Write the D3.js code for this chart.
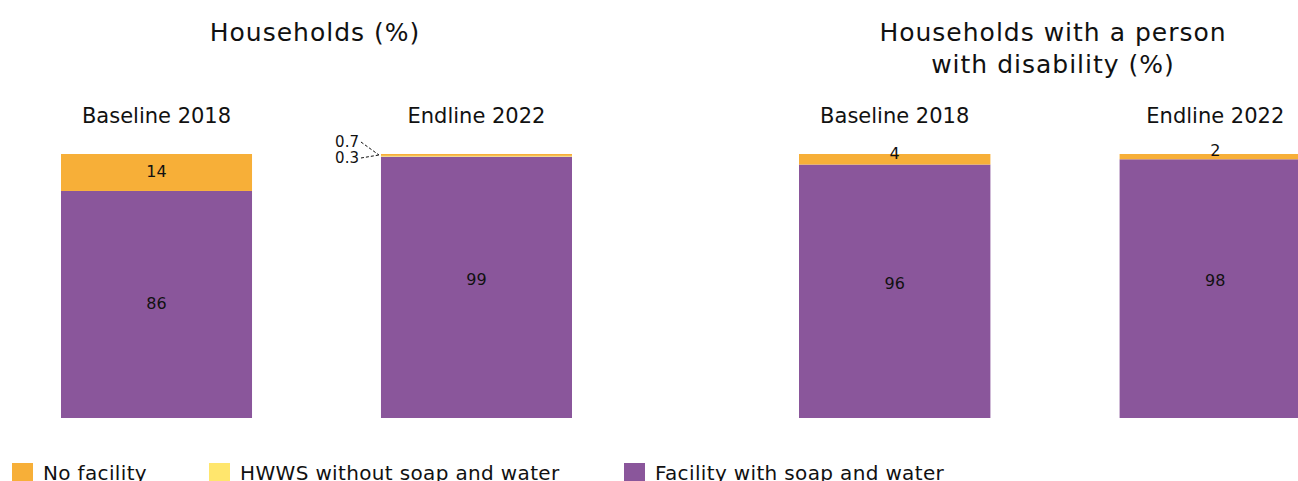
<!DOCTYPE html>
<html>
<head>
<meta charset="utf-8">
<script src="https://cdn.jsdelivr.net/npm/d3@7"></script>
<style>
  body { margin: 0; background: #fff; }
  text { font-family: "DejaVu Sans", Verdana, sans-serif; fill: #111; }
</style>
</head>
<body>
<div id="chart"></div>
<script>
// data
let periods = ["Baseline 2018", "Endline 2022"];
let series = ["No facility", "HWWS without soap and water", "Facility with soap and water"];
let colors = ["#f7af38", "#ffe66d", "#8a569b"];

let householdsFacility = [86, 99];
let householdsHwws = [0, 0.3];
let householdsNone = [14, 0.7];

let disabilityFacility = [96, 98];
let disabilityHwws = [0, 0];
let disabilityNone = [4, 2];

let width = 1298;
let height = 481;

let svg = d3.select("#chart").append("svg")
  .attr("width", width)
  .attr("height", height);

let color = d3.scaleOrdinal().domain(series).range(colors);

let y = d3.scaleLinear().domain([0, 100]).range([418, 154]);

function makeRows(fac, hw, none) {
  return periods.map((p, i) => ({
    period: p,
    "Facility with soap and water": fac[i],
    "HWWS without soap and water": hw[i],
    "No facility": none[i]
  }));
}

let panels = [
  { title: ["Households (%)"], cx: 315, range: [61, 572],
    rows: makeRows(householdsFacility, householdsHwws, householdsNone) },
  { title: ["Households with a person", "with disability (%)"], cx: 1053, range: [799, 1311],
    rows: makeRows(disabilityFacility, disabilityHwws, disabilityNone) }
];

let stack = d3.stack().keys(series.slice().reverse());

panels.forEach((panel, pi) => {
  let x = d3.scaleBand().domain(periods).range(panel.range).paddingInner(0.403).paddingOuter(0);
  let g = svg.append("g");

  g.selectAll(".title")
    .data(panel.title)
    .enter().append("text")
    .attr("x", panel.cx)
    .attr("y", (d, i) => 41 + i * 32)
    .attr("text-anchor", "middle")
    .style("font-size", "25px")
    .style("letter-spacing", "1px")
    .text(d => d);

  g.selectAll(".period")
    .data(periods)
    .enter().append("text")
    .attr("x", d => x(d) + x.bandwidth() / 2)
    .attr("y", 123)
    .attr("text-anchor", "middle")
    .style("font-size", "21px")
    .text(d => d);

  let layers = stack(panel.rows);

  layers.forEach(layer => {
    g.selectAll(null)
      .data(layer)
      .enter().append("rect")
      .attr("x", d => x(d.data.period))
      .attr("width", x.bandwidth())
      .attr("y", d => y(d[1]))
      .attr("height", d => y(d[0]) - y(d[1]))
      .attr("fill", color(layer.key));

    // value labels (skip the tiny ones, they get callouts)
    g.selectAll(null)
      .data(layer.filter(d => d[1] - d[0] >= 1))
      .enter().append("text")
      .attr("x", d => x(d.data.period) + x.bandwidth() / 2)
      .attr("y", d => {
        let h = y(d[0]) - y(d[1]);
        let c = (y(d[0]) + y(d[1])) / 2;
        if (h < 15) return c - 6;
        if (d[0] === 0 && d[1] > 95) return c - 8;
        return c - 1;
      })
      .attr("dy", "0.35em")
      .attr("text-anchor", "middle")
      .style("font-size", "16px")
      .text(d => d[1] - d[0]);
  });

  // callouts for the very thin segments
  if (pi === 0) {
    let d = panel.rows[1];
    let bx = x(d.period);
    let topY = y(100);
    let callouts = [
      { v: d["No facility"], ty: 142 },
      { v: d["HWWS without soap and water"], ty: 158 }
    ];
    callouts.forEach(c => {
      g.append("text")
        .attr("x", bx - 22)
        .attr("y", c.ty)
        .attr("dy", "0.35em")
        .attr("text-anchor", "end")
        .style("font-size", "15px")
        .text(c.v);
      g.append("line")
        .attr("x1", bx - 20)
        .attr("y1", c.ty)
        .attr("x2", bx - 2)
        .attr("y2", topY + 1)
        .attr("stroke", "#111")
        .attr("stroke-width", 1)
        .attr("stroke-dasharray", "3,2");
    });
  }
});

// legend
let legendX = [12, 209, 624];
let legend = svg.append("g");
series.forEach((s, i) => {
  legend.append("rect")
    .attr("x", legendX[i])
    .attr("y", 463)
    .attr("width", 21)
    .attr("height", 18)
    .attr("fill", color(s));
  legend.append("text")
    .attr("x", legendX[i] + 31)
    .attr("y", 480)
    .style("font-size", "20px")
    .style("letter-spacing", "0.35px")
    .text(s);
});
</script>
</body>
</html>
